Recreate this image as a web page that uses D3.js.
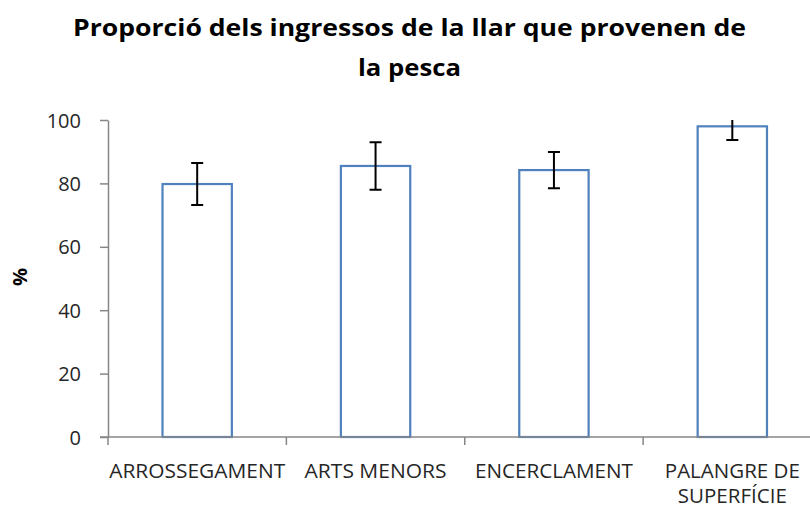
<!DOCTYPE html>
<html>
<head>
<meta charset="utf-8">
<script src="https://cdn.jsdelivr.net/npm/d3@7"></script>
<style>
body{margin:0;background:#fff;}
svg{display:block;}
</style>
</head>
<body>
<svg id="c" width="810" height="506"></svg>
<script>
const categories = [["ARROSSEGAMENT"], ["ARTS MENORS"], ["ENCERCLAMENT"], ["PALANGRE DE", "SUPERFÍCIE"]];
const values = [79.8, 85.5, 84.2, 98.0];
const errors = [6.6, 7.5, 5.7, 4.3];
const yTicks = [0, 20, 40, 60, 80, 100];
const titleLines = ["Proporció dels ingressos de la llar que provenen de", "la pesca"];
const yLabel = "%";

(function () {
const svg = d3.select("#c");
const pLeft = 108, pRight = 821.5, pTop = 120, pBottom = 437;
const font = "'Open Sans', sans-serif";

const x = d3.scaleBand().domain(d3.range(categories.length)).range([pLeft, pRight]).paddingInner(0.6).paddingOuter(0.3);
const xb = d3.scaleBand().domain(d3.range(categories.length)).range([pLeft, pRight]);
const y = d3.scaleLinear().domain([0, 100]).range([pBottom, pTop]);

svg.append("defs").append("clipPath").attr("id", "clip")
  .append("rect").attr("x", pLeft).attr("y", pTop).attr("width", pRight - pLeft).attr("height", pBottom - pTop);

// Title
const titleW = [673, 103];
const titleY = [36, 76];
titleLines.forEach((t, i) => {
  svg.append("text").attr("x", 409.5).attr("y", titleY[i])
    .attr("text-anchor", "middle").attr("font-family", font).attr("font-weight", "bold")
    .attr("font-size", 22.5).attr("fill", "#000")
    .attr("textLength", titleW[i]).attr("lengthAdjust", "spacingAndGlyphs").text(t);
});

// Bars
const g = svg.append("g");
g.selectAll("rect.bar").data(values).join("rect").attr("class", "bar")
  .attr("x", (d, i) => x(i) + 1).attr("width", x.bandwidth() - 2)
  .attr("y", d => y(d)).attr("height", d => y(0) - y(d))
  .attr("fill", "#fff").attr("stroke", "#4F81BD").attr("stroke-width", 2.2);

// Y axis
const yAxis = d3.axisLeft(y).tickValues(yTicks).tickSize(8).tickSizeOuter(0).tickPadding(20);
const ya = svg.append("g").attr("transform", `translate(${pLeft},0)`).call(yAxis);
ya.select(".domain").attr("stroke", "#868686").attr("stroke-width", 1.5);
ya.selectAll(".tick line").attr("stroke", "#868686").attr("stroke-width", 1.5);
ya.selectAll(".tick text").attr("font-family", font).attr("font-size", 20).attr("fill", "#262626").attr("dy", "0.35em").attr("x", -27);

// X axis
const xa = svg.append("g");
xa.append("line").attr("x1", pLeft - 8).attr("x2", pRight).attr("y1", y(0)).attr("y2", y(0))
  .attr("stroke", "#868686").attr("stroke-width", 1.5);
xa.selectAll("line.t").data(d3.range(categories.length)).join("line").attr("class", "t")
  .attr("x1", i => xb(i)).attr("x2", i => xb(i)).attr("y1", y(0)).attr("y2", y(0) + 8)
  .attr("stroke", "#868686").attr("stroke-width", 1.5);
const labW = [[176], [142], [158], [135, 109]];
categories.forEach((lines, i) => {
  const cx = xb(i) + xb.bandwidth() / 2;
  const txt = xa.append("text").attr("text-anchor", "middle").attr("font-family", font)
    .attr("font-size", 19.5).attr("fill", "#262626");
  lines.forEach((t, j) => {
    txt.append("tspan").attr("x", cx).attr("y", 477.5 + j * 25.5)
      .attr("textLength", labW[i][j]).attr("lengthAdjust", "spacingAndGlyphs").text(t);
  });
});

// Error bars
const eb = svg.append("g").attr("clip-path", "url(#clip)");
values.forEach((v, i) => {
  const cx = x(i) + x.bandwidth() / 2;
  const lo = y(v - errors[i]), hi = y(v + errors[i]);
  eb.append("line").attr("x1", cx).attr("x2", cx).attr("y1", lo).attr("y2", hi).attr("stroke", "#000").attr("stroke-width", 2);
  [lo, hi].forEach(yy => eb.append("line").attr("x1", cx - 6).attr("x2", cx + 6).attr("y1", yy).attr("y2", yy).attr("stroke", "#000").attr("stroke-width", 2));
});

// Y label
svg.append("text").attr("transform", "translate(27,277) rotate(-90)").attr("text-anchor", "middle")
  .attr("font-family", font).attr("font-weight", "bold").attr("font-size", 20).attr("fill", "#000").text(yLabel);
})();
</script>
</body>
</html>
